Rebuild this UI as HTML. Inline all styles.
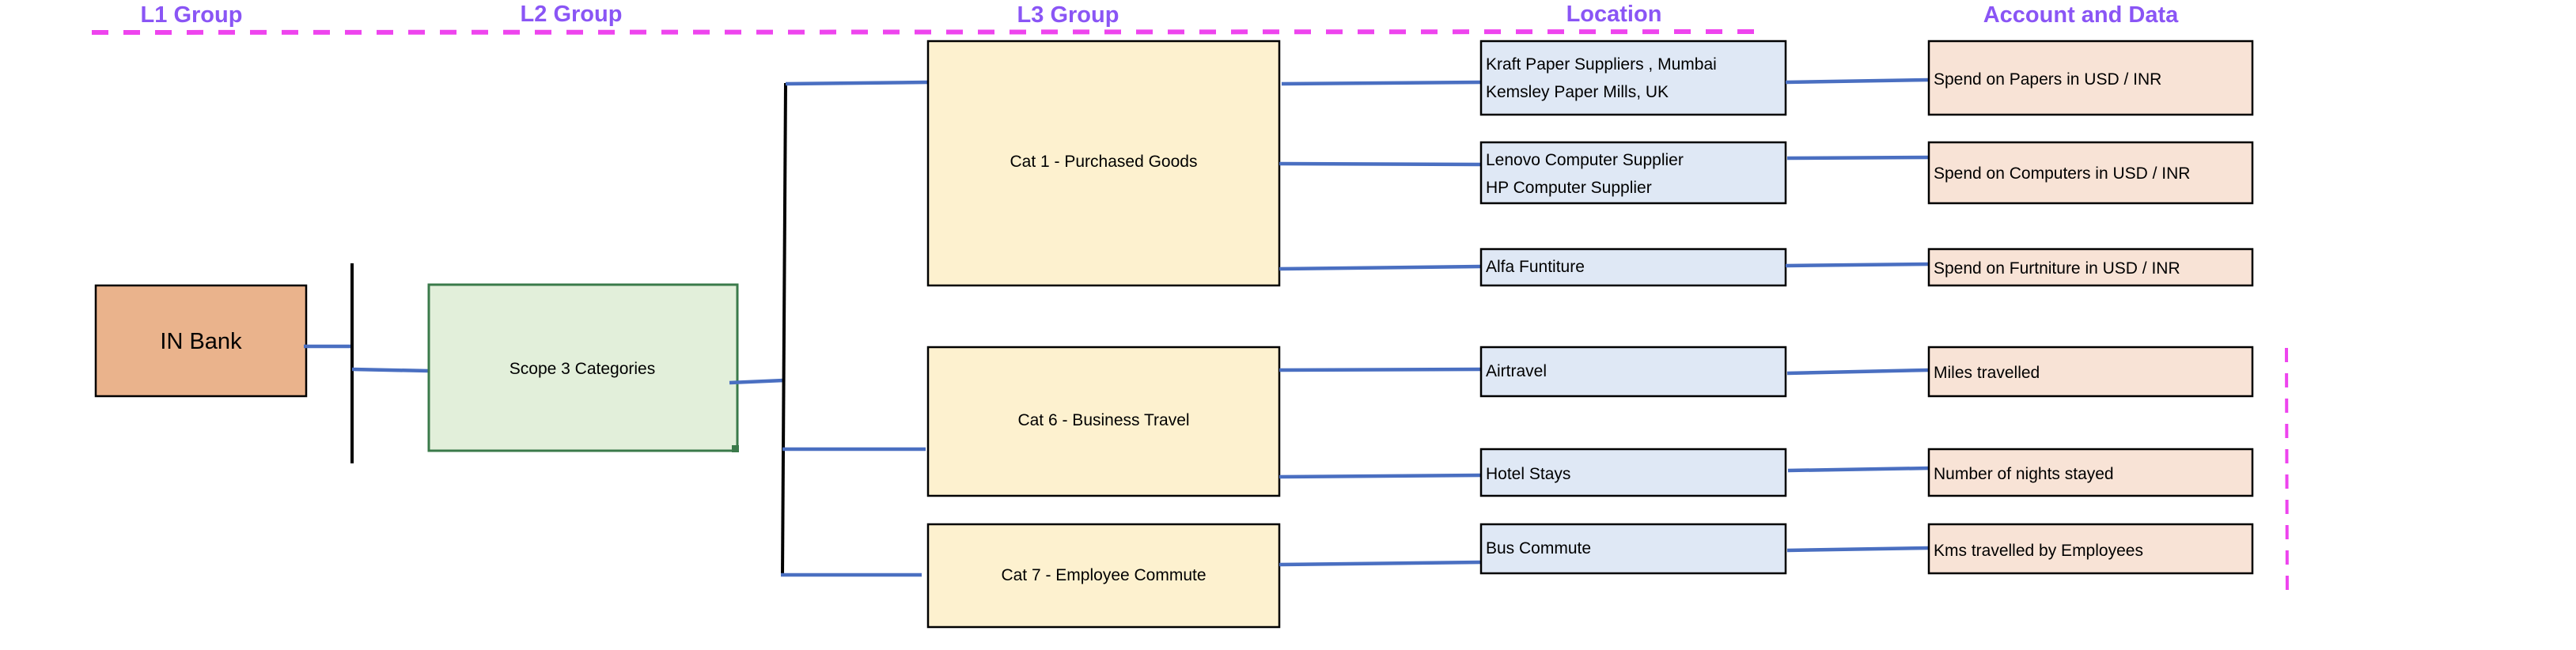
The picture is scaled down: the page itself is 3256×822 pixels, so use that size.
<!DOCTYPE html>
<html><head><meta charset="utf-8"><style>
html,body{margin:0;padding:0;background:#fff;}
svg{display:block;}
text{font-family:"Liberation Sans",sans-serif;}
.t{font-size:21px;fill:#000;}
.h{font-size:29px;font-weight:bold;fill:#8a55f5;}
</style></head><body>
<svg width="3256" height="822" viewBox="0 0 3256 822" xmlns="http://www.w3.org/2000/svg">
<!-- headers -->
<text class="h" x="242" y="28" text-anchor="middle">L1 Group</text>
<text class="h" x="722" y="27" text-anchor="middle">L2 Group</text>
<text class="h" x="1350" y="28" text-anchor="middle">L3 Group</text>
<text class="h" x="2040" y="27" text-anchor="middle">Location</text>
<text class="h" x="2630" y="28" text-anchor="middle">Account and Data</text>
<line x1="116" y1="41" x2="2236" y2="40" stroke="#ee44ee" stroke-width="6" stroke-dasharray="21 19"/>
<line x1="2890" y1="440" x2="2891" y2="758" stroke="#ee44ee" stroke-width="4" stroke-dasharray="18 14"/>

<!-- IN Bank -->
<rect x="121" y="361" width="266" height="140" fill="#eab38c" stroke="#000" stroke-width="2.5"/>
<text x="254" y="441" text-anchor="middle" style="font-size:29px">IN Bank</text>
<line x1="384" y1="438" x2="445" y2="438" stroke="#4a6fc1" stroke-width="4.5"/>
<line x1="445" y1="333" x2="445" y2="586" stroke="#000" stroke-width="4"/>
<line x1="445" y1="467" x2="542" y2="469" stroke="#4a6fc1" stroke-width="4.5"/>

<!-- Scope -->
<rect x="542" y="360" width="390" height="210" fill="#e2efda" stroke="#3a7a4a" stroke-width="3"/>
<rect x="925" y="563" width="9" height="9" fill="#3a7a4a"/>
<text class="t" x="736" y="473" text-anchor="middle">Scope 3 Categories</text>
<line x1="922" y1="484" x2="991" y2="481" stroke="#4a6fc1" stroke-width="4.5"/>
<line x1="993" y1="105" x2="989" y2="729" stroke="#000" stroke-width="4"/>
<line x1="993" y1="106" x2="1173" y2="104" stroke="#4a6fc1" stroke-width="4.5"/>
<line x1="989" y1="568" x2="1170" y2="568" stroke="#4a6fc1" stroke-width="4.5"/>
<line x1="987" y1="727" x2="1165" y2="727" stroke="#4a6fc1" stroke-width="4.5"/>

<!-- L3 boxes -->
<g fill="#fdf1cf" stroke="#000" stroke-width="2.5">
<rect x="1173" y="52" width="444" height="309"/>
<rect x="1173" y="439" width="444" height="188"/>
<rect x="1173" y="663" width="444" height="130"/>
</g>
<text class="t" x="1395" y="211" text-anchor="middle">Cat 1 - Purchased Goods</text>
<text class="t" x="1395" y="538" text-anchor="middle">Cat 6 - Business Travel</text>
<text class="t" x="1395" y="734" text-anchor="middle">Cat 7 - Employee Commute</text>

<!-- L3 -> Location lines -->
<g stroke="#4a6fc1" stroke-width="4.5">
<line x1="1620" y1="106" x2="1872" y2="104"/>
<line x1="1617" y1="207" x2="1872" y2="208"/>
<line x1="1617" y1="340" x2="1872" y2="337"/>
<line x1="1617" y1="468" x2="1872" y2="467"/>
<line x1="1617" y1="603" x2="1872" y2="601"/>
<line x1="1617" y1="714" x2="1872" y2="711"/>
</g>

<!-- Location boxes -->
<g fill="#dfe8f5" stroke="#000" stroke-width="2.5">
<rect x="1872" y="52" width="385" height="93"/>
<rect x="1872" y="180" width="385" height="77"/>
<rect x="1872" y="315" width="385" height="46"/>
<rect x="1872" y="439" width="385" height="62"/>
<rect x="1872" y="568" width="385" height="59"/>
<rect x="1872" y="663" width="385" height="62"/>
</g>
<g class="t">
<text class="t" x="1878" y="88">Kraft Paper Suppliers , Mumbai</text>
<text class="t" x="1878" y="123">Kemsley Paper Mills, UK</text>
<text class="t" x="1878" y="209">Lenovo Computer Supplier</text>
<text class="t" x="1878" y="244">HP Computer Supplier</text>
<text class="t" x="1878" y="344">Alfa Funtiture</text>
<text class="t" x="1878" y="476">Airtravel</text>
<text class="t" x="1878" y="606">Hotel Stays</text>
<text class="t" x="1878" y="700">Bus Commute</text>
</g>

<!-- Location -> Account lines -->
<g stroke="#4a6fc1" stroke-width="4.5">
<line x1="2257" y1="104" x2="2438" y2="101"/>
<line x1="2259" y1="200" x2="2440" y2="199"/>
<line x1="2257" y1="336" x2="2438" y2="334"/>
<line x1="2259" y1="472" x2="2438" y2="468"/>
<line x1="2260" y1="595" x2="2440" y2="592"/>
<line x1="2259" y1="696" x2="2438" y2="693"/>
</g>

<!-- Account boxes -->
<g fill="#f8e3d6" stroke="#000" stroke-width="2.5">
<rect x="2438" y="52" width="409" height="93"/>
<rect x="2438" y="180" width="409" height="77"/>
<rect x="2438" y="315" width="409" height="46"/>
<rect x="2438" y="439" width="409" height="62"/>
<rect x="2438" y="568" width="409" height="59"/>
<rect x="2438" y="663" width="409" height="62"/>
</g>
<text class="t" x="2444" y="107">Spend on Papers  in USD / INR</text>
<text class="t" x="2444" y="226">Spend on Computers  in USD / INR</text>
<text class="t" x="2444" y="346">Spend on Furtniture in USD / INR</text>
<text class="t" x="2444" y="478">Miles travelled</text>
<text class="t" x="2444" y="606">Number of nights stayed</text>
<text class="t" x="2444" y="703">Kms travelled by Employees</text>
</svg>
</body></html>
